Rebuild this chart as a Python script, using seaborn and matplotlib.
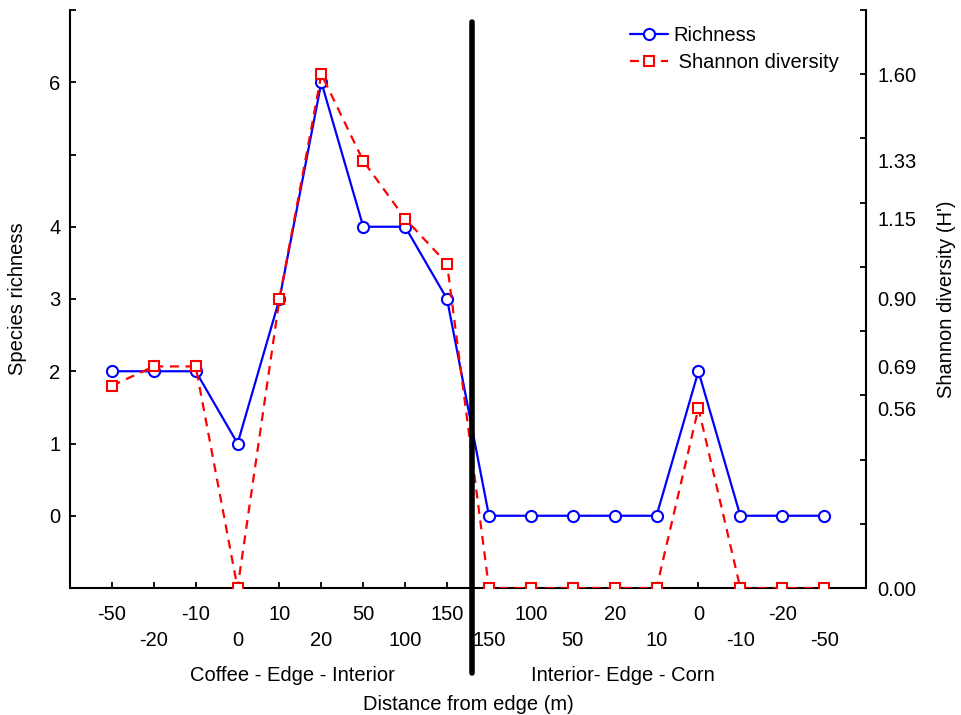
import matplotlib.pyplot as plt
import numpy as np
import seaborn as sns

# distance along the two transects (coffee->forest, forest->corn)
distance_labels = ['-50', '-20', '-10', '0', '10', '20', '50', '100', '150',
                   '150', '100', '50', '20', '10', '0', '-10', '-20', '-50']
richness = [2, 2, 2, 1, 3, 6, 4, 4, 3, 0, 0, 0, 0, 0, 2, 0, 0, 0]
shannon = [0.63, 0.69, 0.69, 0.00, 0.90, 1.60, 1.33, 1.15, 1.01,
           0.00, 0.00, 0.00, 0.00, 0.00, 0.56, 0.00, 0.00, 0.00]

richness_ticks = [-1, 0, 1, 2, 3, 4, 5, 6, 7]
richness_ticklabels = ['', '0', '1', '2', '3', '4', '', '6', '']
shannon_ticks = [0.0, 0.2, 0.4, 0.6, 0.8, 1.0, 1.2, 1.4, 1.6, 1.8]
shannon_labelled = [0.00, 0.56, 0.69, 0.90, 1.15, 1.33, 1.60]
transect_names = ['Coffee - Edge - Interior', 'Interior- Edge - Corn']

sns.set_style('ticks')
plt.rcParams['font.family'] = ['Liberation Sans', 'DejaVu Sans']
plt.rcParams['font.size'] = 14.5
for k in ('text.color', 'axes.labelcolor', 'xtick.color', 'ytick.color', 'axes.edgecolor'):
    plt.rcParams[k] = 'black'

fs = 14.5
pos = np.arange(len(distance_labels))

fig = plt.figure(figsize=(9.62, 7.15), dpi=100)
ax = fig.add_axes([70 / 962, 1 - 588 / 715, 796 / 962, 578 / 715])
ax2 = ax.twinx()

sns.lineplot(x=pos, y=richness, ax=ax, color='blue', lw=1.6, marker='o',
             markersize=8, markerfacecolor='white', markeredgecolor='blue',
             markeredgewidth=1.5, label='Richness', legend=False)
sns.lineplot(x=pos, y=shannon, ax=ax2, color='red', lw=1.6, linestyle=(0, (4, 3)),
             marker='s', markersize=7.5, markerfacecolor='white',
             markeredgecolor='red', markeredgewidth=1.5,
             label=' Shannon diversity', legend=False)

ax.set_xlim(-1, 18)
ax.set_ylim(-1, 7)
ax2.set_ylim(0, 1.8)

# x ticks: alternate labels on two rows
ax.set_xticks(pos[::2], [distance_labels[i] for i in pos[::2]])
ax.set_xticks(pos[1::2], [distance_labels[i] for i in pos[1::2]], minor=True)
ax.tick_params(axis='x', which='major', direction='in', length=4, width=1.3, pad=12, labelsize=fs)
ax.tick_params(axis='x', which='minor', direction='in', length=4, width=1.3, pad=31, labelsize=fs)

ax.set_yticks(richness_ticks, richness_ticklabels)
ax.tick_params(axis='y', direction='in', length=4, width=1.3, pad=7, labelsize=fs)

# right axis: unlabelled ticks every 0.2, labels at the index values without ticks
ax2.yaxis.remove_overlapping_locs = False
ax2.set_yticks(shannon_ticks, [''] * len(shannon_ticks))
ax2.set_yticks(shannon_labelled, [f'{v:.2f}' for v in shannon_labelled], minor=True)
ax2.tick_params(axis='y', which='major', direction='in', length=4, width=1.3)
ax2.tick_params(axis='y', which='minor', length=0, pad=8, labelsize=fs)

for a in (ax, ax2):
    a.spines['top'].set_visible(False)
    for s in ('left', 'right', 'bottom'):
        a.spines[s].set_linewidth(1.5)
ax.spines['right'].set_visible(False)
ax2.spines['left'].set_visible(False)
ax2.spines['bottom'].set_visible(False)

ax.set_ylabel('Species richness', fontsize=fs, labelpad=16)
ax2.set_ylabel("Shannon diversity (H')", fontsize=fs, labelpad=15)
ax.set_xlabel('Distance from edge (m)', fontsize=fs, labelpad=32)

# transect names under the tick rows
ax.text(4.3, -0.151, transect_names[0], transform=ax.get_xaxis_transform(),
        ha='center', va='center', fontsize=fs)
ax.text(12.2, -0.151, transect_names[1], transform=ax.get_xaxis_transform(),
        ha='center', va='center', fontsize=fs)

# thick separator between the two transects
ax2.plot([8.6, 8.6], [0.979, -0.147], transform=ax2.get_xaxis_transform(),
         color='black', lw=4, solid_capstyle='round', clip_on=False, zorder=5)

h1, l1 = ax.get_legend_handles_labels()
h2, l2 = ax2.get_legend_handles_labels()
ax2.legend(h1 + h2, l1 + l2, loc='upper left', bbox_to_anchor=(620 / 962, 1 - 16 / 715),
           bbox_transform=fig.transFigure, frameon=False, fontsize=fs,
           handlelength=1.9, handletextpad=0.25, labelspacing=0.4, borderpad=0)

fig.savefig('out.png', dpi=100)
